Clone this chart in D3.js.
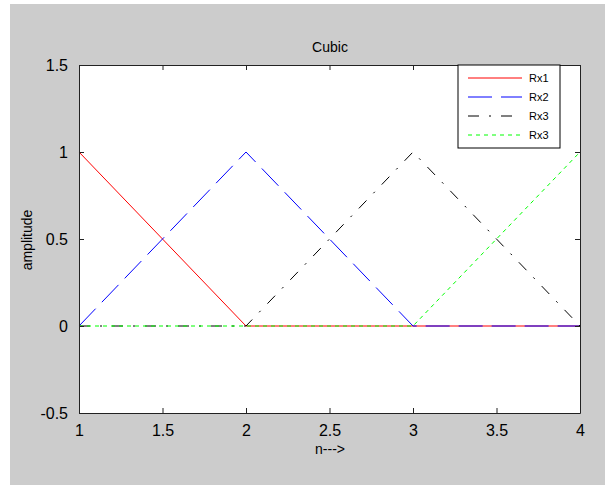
<!DOCTYPE html>
<html>
<head>
<meta charset="utf-8">
<script src="https://cdn.jsdelivr.net/npm/d3@7"></script>
<style>
  body { margin: 0; background: #fff; }
  text { font-family: "Liberation Sans", Arial, sans-serif; fill: #000; }
</style>
</head>
<body>
<div id="chart"></div>
<script>
// data
const nValues = [1, 2, 3, 4];
const rx1 = [1, 0, 0, 0];
const rx2 = [0, 1, 0, 0];
const rx3 = [0, 0, 1, 0];
const rx4 = [0, 0, 0, 1];
const seriesNames = ['Rx1', 'Rx2', 'Rx3', 'Rx3'];
const xTicks = [1, 1.5, 2, 2.5, 3, 3.5, 4];
const yTicks = [-0.5, 0, 0.5, 1, 1.5];

const styles = [
  {color: '#ff0000', dash: null},
  {color: '#0000ff', dash: '24,9'},
  {color: '#000000', dash: '11,10,2,10'},
  {color: '#00ff00', dash: '4,4'}
];

const W = 605, H = 485;
const margin = {top: 65, right: 26, bottom: 72, left: 79};
const pw = 580 - margin.left, ph = 413 - margin.top;

const svg = d3.select('#chart').append('svg').attr('width', W).attr('height', H);
svg.append('rect').attr('x', 10).attr('y', 4).attr('width', W - 10).attr('height', H - 4).attr('fill', '#cccccc');

const g = svg.append('g').attr('transform', `translate(${margin.left},${margin.top})`);
g.append('rect').attr('width', pw).attr('height', ph).attr('fill', '#fff');

const x = d3.scaleLinear().domain([1, 4]).range([0, pw]);
const y = d3.scaleLinear().domain([-0.5, 1.5]).range([ph, 0]);

// lines
const allSeries = [rx1, rx2, rx3, rx4];
const line = d3.line().x((d, i) => x(nValues[i])).y(d => y(d));
allSeries.forEach((s, k) => {
  g.append('path').datum(s)
    .attr('d', line)
    .attr('fill', 'none')
    .attr('stroke', styles[k].color)
    .attr('stroke-width', 1)
    .attr('stroke-dasharray', styles[k].dash);
});

// axes
const fmt = d => String(d);
const axB = g.append('g').attr('transform', `translate(0,${ph})`)
  .call(d3.axisBottom(x).tickValues(xTicks).tickFormat(fmt).tickSizeInner(-5).tickSizeOuter(0).tickPadding(12));
const axT = g.append('g')
  .call(d3.axisTop(x).tickValues(xTicks).tickFormat('').tickSizeInner(-5).tickSizeOuter(0));
const axL = g.append('g')
  .call(d3.axisLeft(y).tickValues(yTicks).tickFormat(fmt).tickSizeInner(-5).tickSizeOuter(0).tickPadding(11));
const axR = g.append('g').attr('transform', `translate(${pw},0)`)
  .call(d3.axisRight(y).tickValues(yTicks).tickFormat('').tickSizeInner(-5).tickSizeOuter(0));
[axB, axT, axL, axR].forEach(a => {
  a.select('.domain').attr('stroke', '#222');
  a.selectAll('.tick line').attr('stroke', '#222');
  a.selectAll('text').style('font-size', '16px').attr('fill', '#000');
});

// title and labels
svg.append('text').attr('x', 330).attr('y', 52).attr('text-anchor', 'middle')
  .style('font-size', '14px').text('Cubic');
svg.append('text').attr('x', 330).attr('y', 454).attr('text-anchor', 'middle')
  .style('font-size', '14px').text('n--->');
svg.append('text').attr('transform', 'translate(32,240) rotate(-90)').attr('text-anchor', 'middle')
  .style('font-size', '14px').text('amplitude');

// legend
const lg = svg.append('g').attr('transform', 'translate(458,65)');
lg.append('rect').attr('width', 102).attr('height', 83).attr('fill', '#fff')
  .attr('stroke', '#000').attr('stroke-width', 1);
seriesNames.forEach((name, k) => {
  const yy = 13 + k * 19;
  lg.append('line').attr('x1', 10).attr('x2', 64).attr('y1', yy).attr('y2', yy)
    .attr('stroke', styles[k].color).attr('stroke-dasharray', styles[k].dash);
  lg.append('text').attr('x', 71).attr('y', yy + 4).style('font-size', '11px').text(name);
});
</script>
</body>
</html>
